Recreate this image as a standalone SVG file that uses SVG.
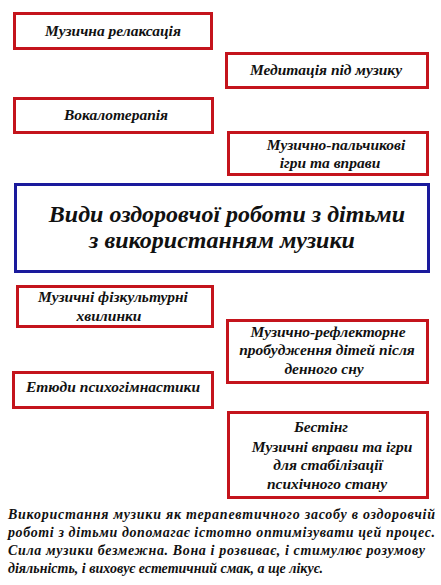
<svg xmlns="http://www.w3.org/2000/svg" width="441" height="585" viewBox="0 0 441 585">
<style>
.box{fill:#fff;stroke:#c4141c;stroke-width:3}
.main{fill:#fff;stroke:#1a1a9c;stroke-width:3}
text{font-family:"Liberation Serif","Times New Roman",serif;font-style:italic;font-weight:bold;fill:#111}
.t{font-size:15.5px;text-anchor:middle}
.h{font-size:24px;text-anchor:middle}
.p{font-size:14px}
</style>
<rect width="441" height="585" fill="#fff"/>
<g id="connectors"></g>
<g id="n1"><rect class="box" x="14.5" y="13.5" width="197" height="35"/><text class="t" x="113" y="36">Музична релаксація</text></g>
<g id="n2"><rect class="box" x="226.5" y="53.5" width="201" height="34"/><text class="t" x="326" y="75">Медитація під музику</text></g>
<g id="n3"><rect class="box" x="14.5" y="98.5" width="198" height="34"/><text class="t" x="116" y="120">Вокалотерапія</text></g>
<g id="n4"><rect class="box" x="228.5" y="132.5" width="199" height="42"/><text class="t" x="336" y="150">Музично-пальчикові</text><text class="t" x="330" y="168">ігри та вправи</text></g>
<g id="main"><rect class="main" x="15.5" y="184.5" width="413" height="87"/><text class="h" x="227" y="222">Види оздоровчої роботи з дітьми</text><text class="h" x="222" y="248">з використанням музики</text></g>
<g id="n5"><rect class="box" x="17.5" y="286.5" width="195" height="40"/><text class="t" x="113" y="302">Музичні фізкультурні</text><text class="t" x="109" y="321">хвилинки</text></g>
<g id="n6"><rect class="box" x="227.5" y="320.5" width="200" height="62"/><text class="t" x="328" y="337">Музично-рефлекторне</text><text class="t" x="327" y="355">пробудження дітей після</text><text class="t" x="324" y="374">денного сну</text></g>
<g id="n7"><rect class="box" x="13.5" y="372.5" width="199" height="35"/><text class="t" x="113" y="392">Етюди психогімнастики</text></g>
<g id="n8"><rect class="box" x="228.5" y="412.5" width="199" height="85"/><text class="t" x="321" y="432">Бестінг</text><text class="t" x="332" y="452">Музичні вправи та ігри</text><text class="t" x="328" y="470">для стабілізації</text><text class="t" x="327" y="489">психічного стану</text></g>
<g id="para">
<text class="p" x="8" y="519" textLength="427">Використання музики як терапевтичного засобу в оздоровчій</text>
<text class="p" x="8" y="537" textLength="427">роботі з дітьми допомагає істотно оптимізувати цей процес.</text>
<text class="p" x="8" y="555" textLength="417">Сила музики безмежна. Вона і розвиває, і стимулює розумову</text>
<text class="p" x="8" y="573">діяльність, і виховує естетичний смак, а ще лікує.</text>
</g>
</svg>
